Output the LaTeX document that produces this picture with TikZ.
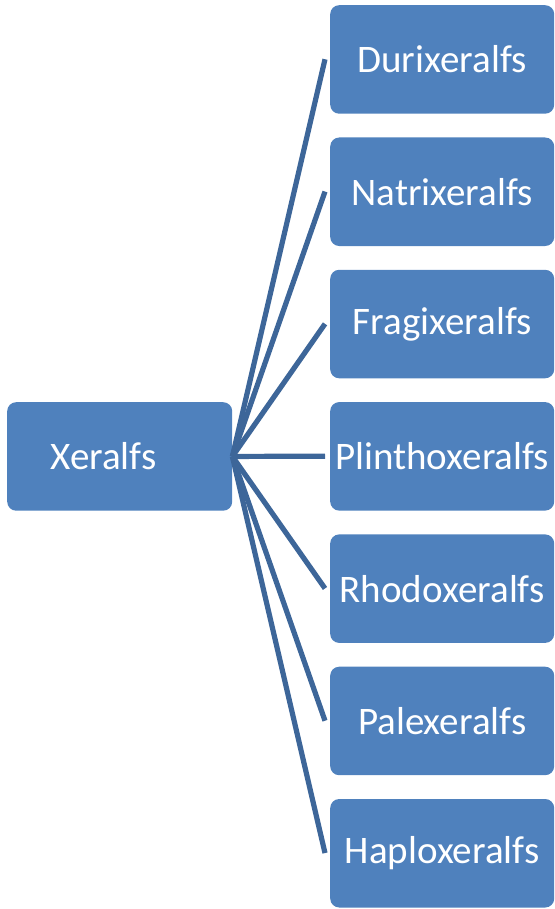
\documentclass[tikz,border=0pt]{standalone}
\usepackage{fontspec}
\setmainfont{Carlito}
\definecolor{boxblue}{HTML}{4F81BD}
\definecolor{lineblue}{HTML}{3D6699}
\begin{document}
\begin{tikzpicture}[x=1pt,y=-1pt,
  box/.style={fill=boxblue,rounded corners=9pt,minimum width=224pt,minimum height=108.5pt,inner sep=0pt,anchor=north west},
  lbl/.style={text=white,font=\fontsize{39}{45}\selectfont},
  conn/.style={draw=lineblue,line width=5.2pt}]
\useasboundingbox (0,0) rectangle (554,909);
\node[box,minimum width=225pt] (root) at (7,402) {};
\node[lbl] (roottext) at (103.5,456.5) {Xeralfs};
\foreach \i/\t in {0/Durixeralfs,1/Natrixeralfs,2/Fragixeralfs,3/Plinthoxeralfs,4/Rhodoxeralfs,5/Palexeralfs,6/Haploxeralfs}{
  \node[box] (b\i) at (330,5+132.3*\i) {};
  \node[lbl] (t\i) at (b\i.center) {\t};
  \coordinate (e\i) at (325,5+132.3*\i+54.25);
  \draw[conn] (root.east) -- (e\i);
}
\end{tikzpicture}
\end{document}
